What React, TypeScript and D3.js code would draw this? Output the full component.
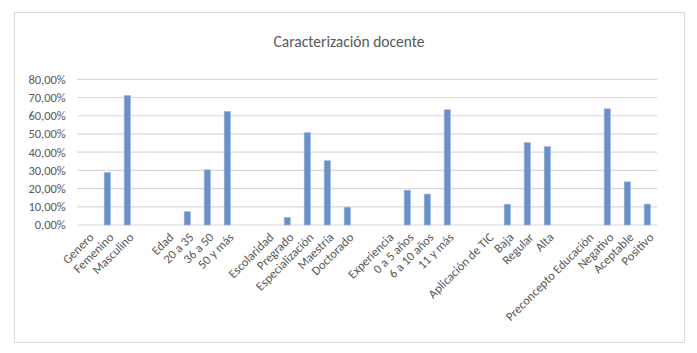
import { useEffect, useRef } from 'react';
import * as d3 from 'd3';

const categories = [
  'Genero', 'Femenino', 'Masculino', '',
  'Edad', '20 a 35', '36 a 50', '50 y más', '',
  'Escolaridad', 'Pregrado', 'Especialización', 'Maestría', 'Doctorado', '',
  'Experiencia', '0 a 5 años', '6 a 10 años', '11 y más', '',
  'Aplicación de TIC', 'Baja', 'Regular', 'Alta', '',
  'Preconcepto Educación', 'Negativo', 'Aceptable', 'Positivo',
];

const values: (number | null)[] = [
  null, 28.9, 71.1, null,
  null, 7.3, 30.3, 62.4, null,
  null, 4.2, 50.7, 35.3, 9.8, null,
  null, 19.1, 17.0, 63.3, null,
  null, 11.4, 45.2, 43.0, null,
  null, 63.8, 23.7, 11.5,
];

const yTicks = [0, 10, 20, 30, 40, 50, 60, 70, 80];

const W = 697;
const H = 353;

export default function App() {
  const svgRef = useRef<SVGSVGElement>(null);

  useEffect(() => {
    if (!svgRef.current) return;
    const margin = { top: 79.3, right: 39.7, bottom: 128, left: 77.3 };
    const innerWidth = W - margin.left - margin.right;
    const innerHeight = H - margin.top - margin.bottom;
    const font = 'Carlito, Lato, "Open Sans", sans-serif';

    const svg = d3.select(svgRef.current);
    svg.selectAll('*').remove();

    svg.append('rect')
      .attr('x', 14.5).attr('y', 12.5)
      .attr('width', 670).attr('height', 330)
      .attr('fill', '#fff')
      .attr('stroke', '#d9d9d9');

    svg.append('text')
      .attr('x', 349).attr('y', 47)
      .attr('text-anchor', 'middle')
      .style('font-family', font)
      .style('font-size', '15.5px')
      .style('fill', '#595959')
      .text('Caracterización docente');

    const g = svg.append('g')
      .attr('transform', `translate(${margin.left},${margin.top})`);

    const x = d3.scaleBand<number>()
      .domain(categories.map((_, i) => i))
      .range([0, innerWidth])
      .paddingInner(0.686)
      .paddingOuter(0.343);

    const xc = d3.scaleBand<number>()
      .domain(categories.map((_, i) => i))
      .range([0, innerWidth]);

    const y = d3.scaleLinear().domain([0, 80]).range([innerHeight, 0]);

    g.selectAll('.grid')
      .data(yTicks)
      .join('line')
      .attr('x1', 0).attr('x2', innerWidth)
      .attr('y1', d => y(d)).attr('y2', d => y(d))
      .attr('stroke', '#d9d9d9')
      .attr('stroke-width', 1.2);

    g.selectAll('.ylab')
      .data(yTicks)
      .join('text')
      .attr('x', -11.5)
      .attr('y', d => y(d))
      .attr('dy', '0.35em')
      .attr('text-anchor', 'end')
      .style('font-family', font)
      .style('font-size', '12.5px')
      .style('fill', '#595959')
      .text(d => d.toFixed(2).replace('.', ',') + '%');

    const bars = values
      .map((v, i) => ({ i, v }))
      .filter(d => d.v !== null) as { i: number; v: number }[];

    g.selectAll('.bar')
      .data(bars)
      .join('rect')
      .attr('x', d => x(d.i) || 0)
      .attr('y', d => y(d.v))
      .attr('width', x.bandwidth())
      .attr('height', d => innerHeight - y(d.v))
      .attr('fill', '#6b90c8')
      .attr('stroke', '#9fb8de')
      .attr('stroke-width', 0.6);

    g.selectAll('.xlab')
      .data(categories.map((c, i) => ({ c, i })).filter(d => d.c !== ''))
      .join('text')
      .attr('transform', d => `translate(${(xc(d.i) || 0) + xc.bandwidth() / 2 + 4},${innerHeight + 10}) rotate(-45)`)
      .attr('text-anchor', 'end')
      .attr('dy', '0.35em')
      .style('font-family', font)
      .style('font-size', '12.5px')
      .style('fill', '#595959')
      .text(d => d.c);
  }, []);

  return (
    <div>
      <svg ref={svgRef} width={W} height={H} style={{ position: 'absolute', left: 0, top: 0 }}></svg>
    </div>
  );
}
